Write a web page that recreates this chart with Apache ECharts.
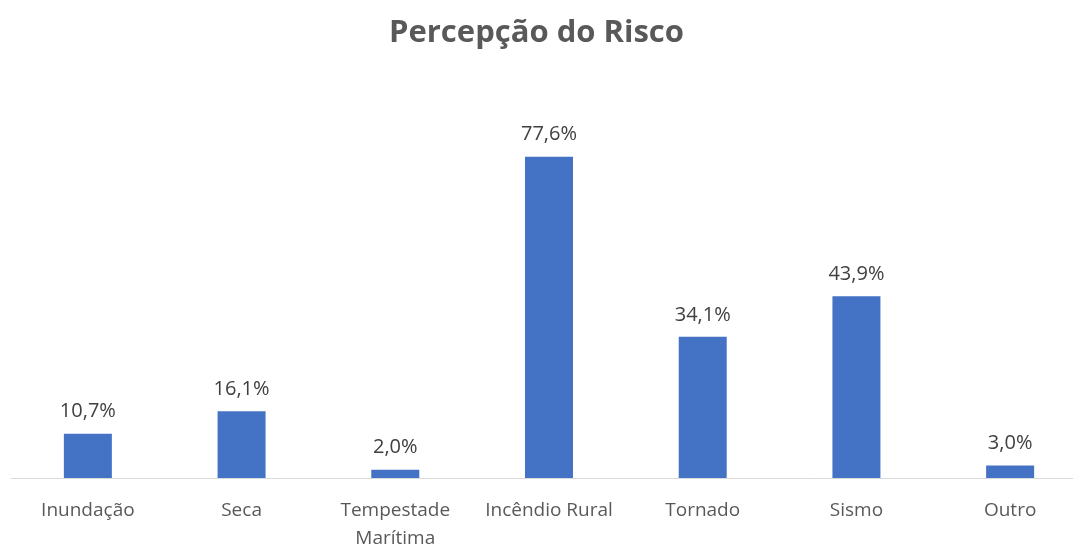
<!DOCTYPE html>
<html>
<head>
<meta charset="utf-8">
<script src="https://cdn.jsdelivr.net/npm/echarts@6/dist/echarts.min.js"></script>
<style>
html, body { margin: 0; padding: 0; background: #fff; }
#chart { width: 1073px; height: 546px; }
</style>
</head>
<body>
<div id="chart"></div>
<script>
var categories = ['Inundação', 'Seca', 'Tempestade\nMarítima', 'Incêndio Rural', 'Tornado', 'Sismo', 'Outro'];
var values = [10.7, 16.1, 2.0, 77.6, 34.1, 43.9, 3.0];

var theChart = echarts.init(document.getElementById('chart'));

var option = {
	title: {
		text: 'Percepção do Risco',
		left: 'center',
		top: 13,
		textStyle: {
			fontFamily: 'Open Sans',
			fontSize: 31,
			fontWeight: 'bold',
			color: '#595959'
		}
	},
	grid: {
		left: 11,
		top: 64,
		width: 1076,
		bottom: 68,
		containLabel: false,
		outerBoundsMode: 'none'
	},
	xAxis: {
		type: 'category',
		data: categories,
		axisLine: { lineStyle: { color: '#D9D9D9', width: 1 } },
		axisTick: { show: false },
		axisLabel: {
			margin: 19,
			interval: 0,
			fontFamily: 'Open Sans',
			fontSize: 19,
			lineHeight: 28,
			color: '#595959'
		}
	},
	yAxis: {
		type: 'value',
		min: 0,
		max: 100,
		show: false,
		splitLine: { show: false }
	},
	series: [{
		type: 'bar',
		data: values,
		barWidth: 48,
		itemStyle: { color: '#4472C4' },
		label: {
			show: true,
			position: 'top',
			distance: 12,
			fontFamily: 'Open Sans',
			fontSize: 20,
			color: '#404040',
			formatter: function (p) {
				return p.value.toFixed(1).replace('.', ',') + '%';
			}
		}
	}]
};

theChart.setOption(option);
</script>
</body>
</html>
